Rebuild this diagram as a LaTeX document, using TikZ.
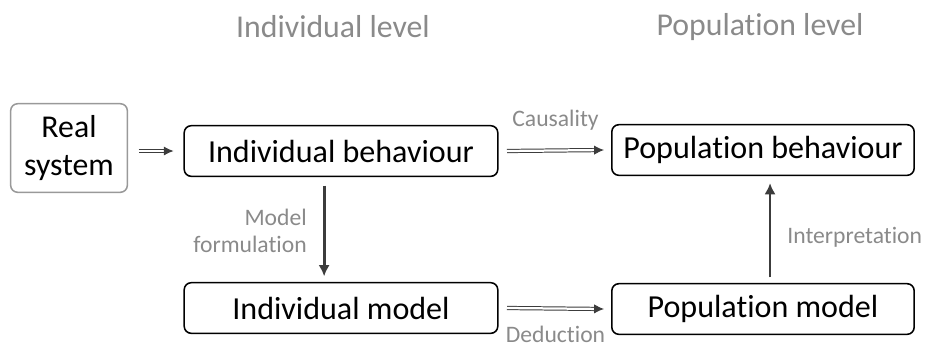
\documentclass[tikz,border=0pt]{standalone}
\usepackage{fontspec}
\setmainfont{Carlito}[Ligatures=NoCommon]
\usetikzlibrary{arrows.meta, positioning}
\definecolor{labelgrey}{HTML}{8A8A8A}
\definecolor{arrowgrey}{HTML}{3C3C3C}

\begin{document}
\begin{tikzpicture}[
    x=0.025cm, y=-0.025cm,
    box/.style={draw=black, line width=1.1pt, rounded corners=5pt,
        minimum height=36pt, inner sep=0pt, font=\fontsize{22.8}{26}\selectfont},
    level/.style={text=labelgrey, font=\fontsize{22.6}{26}\selectfont},
    lbl/.style={text=labelgrey, font=\fontsize{16.8}{19.5}\selectfont},
    dblarrow/.style={draw=arrowgrey, double, double distance=1.6pt, line width=0.7pt,
        -{Latex[length=7pt, width=6.5pt]}},
    vertarrow/.style={draw=arrowgrey, line width=2pt, -{Latex[length=8pt, width=8pt]}},
]
\useasboundingbox (0,0) rectangle (927,350);
% column headings
\node[level] (indlevel) at (333,27) {Individual level};
\node[level] (poplevel) at (760,27) {Population level};
% boxes
\node[box, draw=black!40, align=center, minimum width=83pt, minimum height=63pt,
    font=\fontsize{22.6}{27}\selectfont] (real) at (69,148) {Real\\system};
\node[box, minimum width=223pt] (indbeh) at (341,151) {Individual behaviour};
\node[box, minimum width=215pt] (popbeh) at (763,150) {Population behaviour};
\node[box, minimum width=223pt] (indmod) at (341,308) {Individual model};
\node[box, minimum width=215pt] (popmod) at (763,309) {Population model};
% connectors
\coordinate (realout) at ([xshift=7.5pt]real.east |- indbeh.west);
\draw[dblarrow] (realout) -- ([xshift=-7pt]indbeh.west);
\draw[dblarrow] ([xshift=6pt]indbeh.east) -- ([xshift=-5pt]popbeh.west)
    node[midway, above=11pt, lbl] (caus) {Causality};
\draw[dblarrow] ([xshift=6pt]indmod.east) -- ([xshift=-5pt]popmod.west)
    node[midway, below=9pt, lbl] (ded) {Deduction};
\draw[vertarrow] ([xshift=-12pt, yshift=-6pt]indbeh.south) -- ([xshift=-12pt, yshift=4pt]indmod.north)
    node[midway, left=8pt, lbl, align=right] (form) {Model\\formulation};
\draw[vertarrow] ([xshift=5pt, yshift=4pt]popmod.north) -- ([xshift=5pt, yshift=-5pt]popbeh.south)
    node[midway, right=8pt, yshift=-5pt, lbl] (interp) {Interpretation};
\end{tikzpicture}
\end{document}
